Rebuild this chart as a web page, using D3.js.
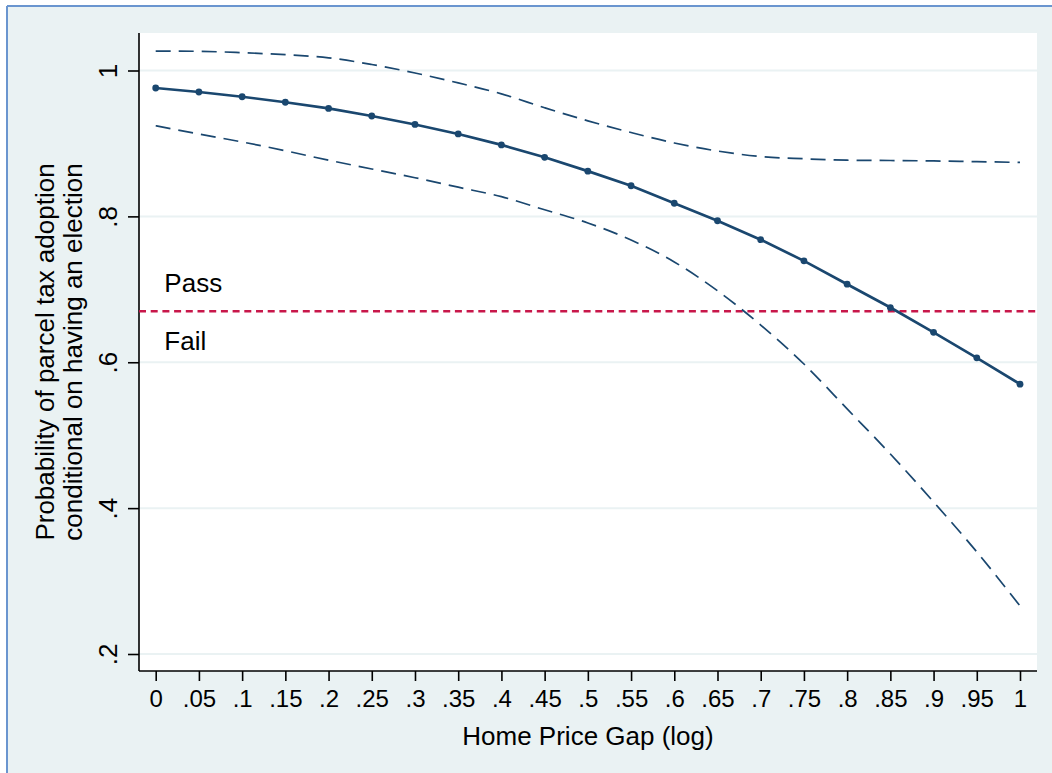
<!DOCTYPE html>
<html><head><meta charset="utf-8">
<script src="https://cdn.jsdelivr.net/npm/d3@7"></script>
<style>html,body{margin:0;padding:0;background:#fff;}svg{display:block;}</style>
</head><body><svg id="c" width="1052" height="773"></svg>
<script>
const xValues = [0,0.05,0.1,0.15,0.2,0.25,0.3,0.35,0.4,0.45,0.5,0.55,0.6,0.65,0.7,0.75,0.8,0.85,0.9,0.95,1];
const prob = [0.976,0.9705,0.964,0.9565,0.948,0.9376,0.926,0.913,0.898,0.881,0.862,0.842,0.818,0.794,0.768,0.739,0.707,0.675,0.641,0.606,0.570];
const upperCI = [1.0267,1.0263,1.0244,1.0217,1.0174,1.0082,0.9966,0.983,0.968,0.949,0.931,0.915,0.9006,0.8896,0.882,0.879,0.877,0.8766,0.876,0.875,0.874];
const lowerCI = [0.9243,0.913,0.902,0.890,0.877,0.865,0.853,0.840,0.827,0.809,0.791,0.7676,0.7375,0.698,0.651,0.5976,0.536,0.4742,0.4085,0.340,0.266];
const threshold = 0.67;
const xTicks = [0,0.05,0.1,0.15,0.2,0.25,0.3,0.35,0.4,0.45,0.5,0.55,0.6,0.65,0.7,0.75,0.8,0.85,0.9,0.95,1];
const xTickLabels = ["0",".05",".1",".15",".2",".25",".3",".35",".4",".45",".5",".55",".6",".65",".7",".75",".8",".85",".9",".95","1"];
const yTicks = [0.2,0.4,0.6,0.8,1];
const yTickLabels = [".2",".4",".6",".8","1"];
const xTitle = "Home Price Gap (log)";
const yTitleLines = ["Probability of parcel tax adoption","conditional on having an election"];
const annotations = [{text:"Pass", x:0.01, y:0.697},{text:"Fail", x:0.01, y:0.617}];

const FONT = "'Liberation Sans', Arial, Helvetica, sans-serif";
const navy = "#1a476f", red = "#c8174a", grid = "#eaf2f3", bg = "#eaf2f3";
const svg = d3.select("#c");
const W = 1052, H = 773;
const plot = {l:139, r:1037, t:33, b:671};

// background frame
svg.append("rect").attr("x",7).attr("y",6).attr("width",W).attr("height",H).attr("fill",bg);
svg.append("line").attr("x1",7).attr("x2",W).attr("y1",6).attr("y2",6).attr("stroke","#6a95cf").attr("stroke-width",2);
svg.append("line").attr("x1",7).attr("x2",7).attr("y1",6).attr("y2",H).attr("stroke","#6a95cf").attr("stroke-width",2);
svg.append("rect").attr("x",plot.l).attr("y",plot.t).attr("width",plot.r-plot.l).attr("height",plot.b-plot.t).attr("fill","#fff");

const x = d3.scaleLinear().domain([0,1]).range([155.7,1020]);
const y = d3.scaleLinear().domain([0.2,1]).range([654,70.5]);

// gridlines
svg.append("g").selectAll("line").data(yTicks).join("line")
  .attr("x1",plot.l).attr("x2",plot.r).attr("y1",d=>y(d)).attr("y2",d=>y(d))
  .attr("stroke",grid).attr("stroke-width",2);

// axes
const yAxis = d3.axisLeft(y).tickValues(yTicks).tickFormat((d,i)=>yTickLabels[i]).tickSize(11).tickSizeOuter(0);
const gy = svg.append("g").attr("transform",`translate(${plot.l},0)`).call(yAxis);
gy.select(".domain").remove();
gy.append("line").attr("x1",0).attr("x2",0).attr("y1",plot.t).attr("y2",plot.b).attr("stroke","#000").attr("stroke-width",1.6);
gy.selectAll(".tick line").attr("stroke","#000").attr("stroke-width",1.6);
gy.selectAll(".tick text").attr("x",0).attr("y",0).attr("dy",0)
  .attr("transform","translate(-22,0) rotate(-90)")
  .attr("text-anchor","middle").attr("fill","#000")
  .style("font-family",FONT).style("font-size","26px");

const xAxis = d3.axisBottom(x).tickValues(xTicks).tickFormat((d,i)=>xTickLabels[i]).tickSize(10).tickSizeOuter(0);
const gx = svg.append("g").attr("transform",`translate(0,${plot.b})`).call(xAxis);
gx.select(".domain").remove();
gx.append("line").attr("x1",plot.l).attr("x2",plot.r).attr("y1",0).attr("y2",0).attr("stroke","#000").attr("stroke-width",1.6);
gx.selectAll(".tick line").attr("stroke","#000").attr("stroke-width",1.6);
gx.selectAll(".tick text").attr("y",0).attr("dy",0).attr("transform","translate(0,36)")
  .attr("fill","#000").style("font-family",FONT).style("font-size","24px");

// titles
svg.append("text").attr("x",(plot.l+plot.r)/2).attr("y",745).attr("text-anchor","middle")
  .style("font-family",FONT).style("font-size","26px").text(xTitle);
svg.append("g").selectAll("text").data(yTitleLines).join("text")
  .attr("transform",(d,i)=>`translate(${54+i*28},${(plot.t+plot.b)/2}) rotate(-90)`)
  .attr("text-anchor","middle").style("font-family",FONT).style("font-size","26px").text(d=>d);

// threshold
svg.append("line").attr("x1",plot.l).attr("x2",plot.r).attr("y1",y(threshold)).attr("y2",y(threshold))
  .attr("stroke",red).attr("stroke-width",2.4).attr("stroke-dasharray","7,4.7");

// annotations
svg.append("g").selectAll("text").data(annotations).join("text")
  .attr("x",d=>x(d.x)).attr("y",d=>y(d.y))
  .style("font-family",FONT).style("font-size","26px").text(d=>d.text);

// CI lines
const line = d3.line().curve(d3.curveMonotoneX).x(d=>x(d[0])).y(d=>y(d[1]));
[upperCI, lowerCI].forEach(arr=>{
  svg.append("path").attr("d",line(xValues.map((v,i)=>[v,arr[i]])))
    .attr("fill","none").attr("stroke",navy).attr("stroke-width",1.7).attr("stroke-dasharray","15,8");
});
// main line
const lineL = d3.line().x(d=>x(d[0])).y(d=>y(d[1]));
const pts = xValues.map((v,i)=>[v,prob[i]]);
svg.append("path").attr("d",lineL(pts)).attr("fill","none").attr("stroke",navy).attr("stroke-width",2.7);
svg.append("g").selectAll("circle").data(pts).join("circle")
  .attr("cx",d=>x(d[0])).attr("cy",d=>y(d[1])).attr("r",3.4).attr("fill",navy);
</script></body></html>
